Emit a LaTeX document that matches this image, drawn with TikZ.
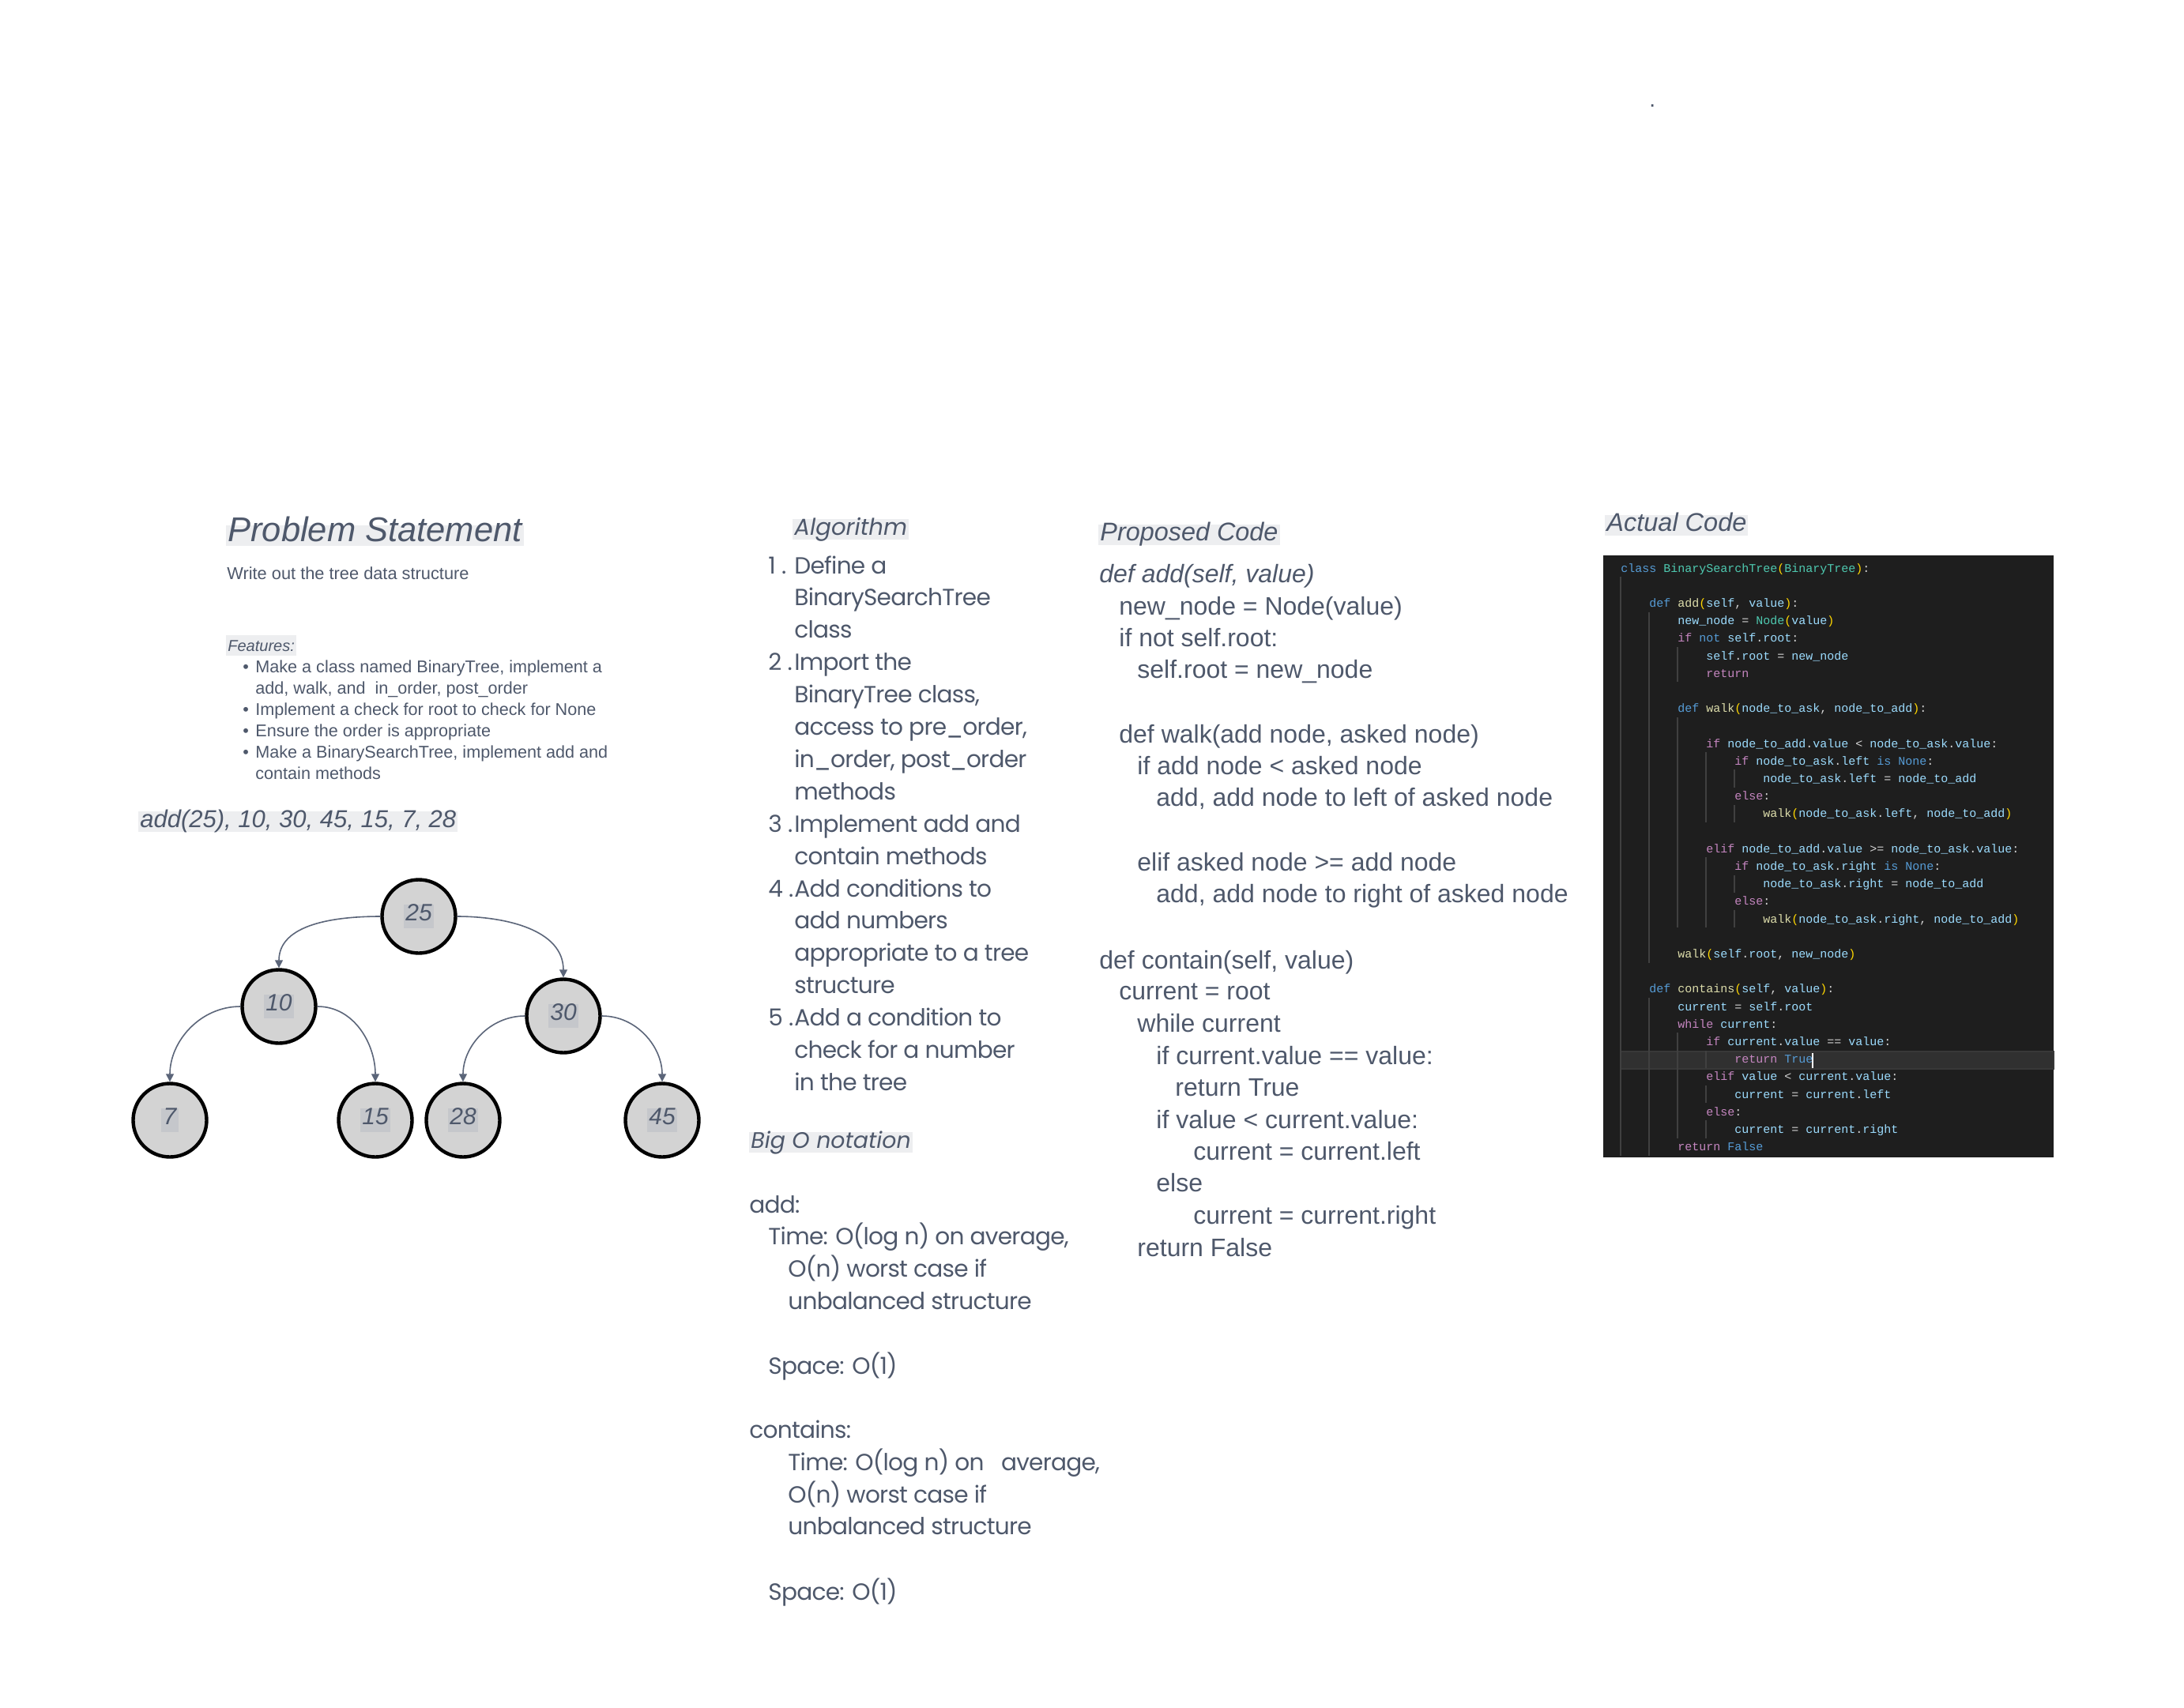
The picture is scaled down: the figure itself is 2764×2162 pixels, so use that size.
\documentclass[tikz,border=0pt]{standalone}
\usepackage{fontspec}
\setmainfont{Liberation Sans}
\newfontfamily\popf[LetterSpace=-2.5]{Poppins}
\newfontfamily\popg{Poppins}
\newfontfamily\monof{Liberation Mono}
\usetikzlibrary{arrows.meta,calc}
\definecolor{slate}{HTML}{4E586B}
\definecolor{hlgrey}{HTML}{EDEEF0}
\definecolor{nodefill}{HTML}{D3D3D3}
\definecolor{labelhl}{HTML}{C5C7CB}
\definecolor{edgecol}{HTML}{5B6579}
\definecolor{codebg}{HTML}{1E1E1E}
\definecolor{guide}{HTML}{404040}
\definecolor{ckw}{HTML}{569CD6}
\definecolor{cctl}{HTML}{C586C0}
\definecolor{cfnc}{HTML}{DCDCAA}
\definecolor{ccls}{HTML}{4EC9B0}
\definecolor{cvar}{HTML}{9CDCFE}
\definecolor{cbrk}{HTML}{FFD700}
\definecolor{cpun}{HTML}{D4D4D4}
\newcommand\hkw[1]{\textcolor{ckw}{#1}}
\newcommand\hct[1]{\textcolor{cctl}{#1}}
\newcommand\hfn[1]{\textcolor{cfnc}{#1}}
\newcommand\hcl[1]{\textcolor{ccls}{#1}}
\newcommand\hvr[1]{\textcolor{cvar}{#1}}
\newcommand\hbr[1]{\textcolor{cbrk}{#1}}
\newcommand\fsz[1]{\fontsize{#1}{#1}\selectfont}
\begin{document}
\begin{tikzpicture}[x=0.5pt,y=-0.5pt,
  txt/.style={anchor=base west,inner sep=0pt,text=slate},
  hl/.style={anchor=base west,inner xsep=1pt,inner ysep=0pt,fill=hlgrey,text=slate,text height=1em,text depth=0.3em},
  tn/.style={circle,draw=black,line width=2.2pt,fill=nodefill,minimum size=46.5pt,inner sep=0pt},
  lbl/.style={fill=labelhl,inner xsep=1.2pt,inner ysep=2.5pt,text=slate,font=\fsz{15pt}\itshape,text height=0.75em,text depth=0.25em},
  edge/.style={draw=edgecol,line width=0.8pt,-{Triangle[length=5pt,width=5pt]}},
  ps/.style={txt,font=\fsz{10.8pt}},
  alg/.style={txt,font=\popf\fsz{14.8pt}},
  pc/.style={txt,font=\fsz{16pt}},
  cd/.style={anchor=base west,inner sep=0pt,text=cpun,font=\monof\fsz{7.5pt}},
  gd/.style={draw=guide,line width=0.6pt}
]
\useasboundingbox (0,0) rectangle (2764,2162);
\fill[white] (0,0) rectangle (2764,2162);

% stray dot
\node[txt,font=\fsz{14pt}] (dot) at (2087,136) {.};

% ---------- Problem statement ----------
\node[hl,font=\fsz{21.75pt}\itshape] (psh) at (286,685) {Problem Statement};
\node[txt,font=\fsz{10.9pt}] (psw) at (287,733) {Write out the tree data structure};
\node[hl,font=\fsz{10pt}\itshape] (feat) at (286,824) {Features:};
\foreach \yy/\nm in {851/b1,905.7/b3,932.7/b4,959.7/b5}{
  \node[ps] (\nm) at (307,\yy) {\textbullet};
}
\node[ps] (f1) at (323,851) {Make a class named BinaryTree, implement a};
\node[ps] (f2) at (323,878.3) {add, walk, and\ \ in\_order, post\_order};
\node[ps] (f3) at (323,905.7) {Implement a check for root to check for None};
\node[ps] (f4) at (323,932.7) {Ensure the order is appropriate};
\node[ps] (f5) at (323,959.7) {Make a BinarySearchTree, implement add and};
\node[ps] (f6) at (323,986.7) {contain methods};
\node[hl,font=\fsz{15.5pt}\itshape] (seq) at (175,1047) {add(25), 10, 30, 45, 15, 7, 28};

% ---------- Tree ----------
\node[tn] (n25) at (530,1160) {};
\node[tn] (n10) at (353,1274) {};
\node[tn] (n30) at (713,1286) {};
\node[tn] (n7)  at (215,1418) {};
\node[tn] (n15) at (475,1418) {};
\node[tn] (n28) at (586,1418) {};
\node[tn] (n45) at (838,1418) {};
\node[lbl] (l25) at (n25) {25};
\node[lbl] (l10) at (n10) {10};
\node[lbl] (l30) at (n30) {30};
\node[lbl] (l7)  at (n7)  {7};
\node[lbl] (l15) at (n15) {15};
\node[lbl] (l28) at (n28) {28};
\node[lbl] (l45) at (n45) {45};
\draw[edge] (n25.west) to[out=180,in=90] (n10.north);
\draw[edge] (n25.east) to[out=0,in=90] (n30.north);
\draw[edge] (n10.west) to[out=180,in=90] (n7.north);
\draw[edge] (n10.east) to[out=0,in=90] (n15.north);
\draw[edge] (n30.west) to[out=180,in=90] (n28.north);
\draw[edge] (n30.east) to[out=0,in=90] (n45.north);

% ---------- Algorithm ----------
\node[hl,font=\popg\fsz{14.6pt}\itshape] (algh) at (1003,677) {Algorithm};
\node[alg] (a1n) at (972,726) {1 .};
\node[alg] (a1a) at (1005,726) {Define a};
\node[alg] (a1b) at (1005,766.9) {BinarySearchTree};
\node[alg] (a1c) at (1005,807.8) {class};
\node[alg] (a2n) at (972,848.7) {2 .};
\node[alg] (a2a) at (1005,848.7) {Import the};
\node[alg] (a2b) at (1005,889.6) {BinaryTree class,};
\node[alg] (a2c) at (1005,930.5) {access to pre\_order,};
\node[alg] (a2d) at (1005,971.4) {in\_order, post\_order};
\node[alg] (a2e) at (1005,1012.3) {methods};
\node[alg] (a3n) at (972,1053.2) {3 .};
\node[alg] (a3a) at (1005,1053.2) {Implement add and};
\node[alg] (a3b) at (1005,1094.1) {contain methods};
\node[alg] (a4n) at (972,1135) {4 .};
\node[alg] (a4a) at (1005,1135) {Add conditions to};
\node[alg] (a4b) at (1005,1175.9) {add numbers};
\node[alg] (a4c) at (1005,1216.8) {appropriate to a tree};
\node[alg] (a4d) at (1005,1257.7) {structure};
\node[alg] (a5n) at (972,1298.6) {5 .};
\node[alg] (a5a) at (1005,1298.6) {Add a condition to};
\node[alg] (a5b) at (1005,1339.5) {check for a number};
\node[alg] (a5c) at (1005,1380.4) {in the tree};

% ---------- Big O ----------
\node[hl,font=\popg\fsz{14.2pt}\itshape] (bigh) at (948,1453) {Big O notation};
\node[alg] (b1) at (948,1535) {add:};
\node[alg] (b2) at (972,1575) {Time: O(log n) on average,};
\node[alg] (b3) at (997,1616) {O(n) worst case if};
\node[alg] (b4) at (997,1657) {unbalanced structure};
\node[alg] (b5) at (972,1739) {Space: O(1)};
\node[alg] (b6) at (948,1820) {contains:};
\node[alg] (b7) at (997,1861) {Time: O(log n) on\ \ \ average,};
\node[alg] (b8) at (997,1902) {O(n) worst case if};
\node[alg] (b9) at (997,1942) {unbalanced structure};
\node[alg] (b10) at (972,2025) {Space: O(1)};

% ---------- Proposed code ----------
\node[hl,font=\fsz{16.2pt}\itshape] (pch) at (1390,684) {Proposed Code};
\node[pc,font=\fsz{16pt}\itshape] (p1) at (1391,737) {def add(self, value)};
\node[pc] (p2) at (1416,778) {new\_node = Node(value)};
\node[pc] (p3) at (1416,818) {if not self.root:};
\node[pc] (p4) at (1439,858) {self.root = new\_node};
\node[pc] (p5) at (1416,940) {def walk(add node, asked node)};
\node[pc] (p6) at (1439,980) {if add node < asked node};
\node[pc] (p7) at (1463,1020) {add, add node to left of asked node};
\node[pc] (p8) at (1439,1102) {elif asked node >= add node};
\node[pc] (p9) at (1463,1142) {add, add node to right of asked node};
\node[pc] (q1) at (1391,1226) {def contain(self, value)};
\node[pc] (q2) at (1416,1265) {current = root};
\node[pc] (q3) at (1439,1306) {while current};
\node[pc] (q4) at (1463,1347) {if current.value == value:};
\node[pc] (q5) at (1487,1387) {return True};
\node[pc] (q6) at (1463,1428) {if value < current.value:};
\node[pc] (q7) at (1510,1468) {current = current.left};
\node[pc] (q8) at (1463,1508) {else};
\node[pc] (q9) at (1510,1549) {current = current.right};
\node[pc] (q10) at (1439,1590) {return False};

% ---------- Actual code ----------
\node[hl,font=\fsz{16.25pt}\itshape] (ach) at (2031,672) {Actual Code};
\fill[codebg] (2029,703) rectangle (2599,1465);
% current line highlight
\draw[draw=black!78,fill=codebg!92!white,line width=0.6pt] (2051,1331) rectangle (2599,1353);
% indent guides  (line n baseline = 724+22.2n ; top = base-16, bottom = base+6.2)
\newcommand\gline[3]{\draw[gd] ({2051+9*#1},{724+22.2*#2-16}) -- ({2051+9*#1},{724+22.2*#3+6.2});}
\gline{0}{1}{33}
\gline{4}{3}{22}
\gline{4}{25}{33}
\gline{8}{5}{6}
\gline{8}{9}{20}
\gline{8}{27}{32}
\gline{12}{11}{14}
\gline{12}{17}{20}
\gline{12}{28}{28}
\gline{12}{30}{30}
\gline{12}{32}{32}
\gline{16}{12}{12}
\gline{16}{14}{14}
\gline{16}{18}{18}
\gline{16}{20}{20}
\newcommand\cl[4]{\node[cd] (#1) at ({2051+9*#2},{724+22.2*#3}) {#4};}
\cl{c0}{0}{0}{\hkw{class} \hcl{BinarySearchTree}\hbr{(}\hcl{BinaryTree}\hbr{)}:}
\cl{c2}{4}{2}{\hkw{def} \hfn{add}\hbr{(}\hvr{self}, \hvr{value}\hbr{)}:}
\cl{c3}{8}{3}{\hvr{new\_node} = \hcl{Node}\hbr{(}\hvr{value}\hbr{)}}
\cl{c4}{8}{4}{\hct{if} \hkw{not} \hvr{self}.\hvr{root}:}
\cl{c5}{12}{5}{\hvr{self}.\hvr{root} = \hvr{new\_node}}
\cl{c6}{12}{6}{\hct{return}}
\cl{c8}{8}{8}{\hkw{def} \hfn{walk}\hbr{(}\hvr{node\_to\_ask}, \hvr{node\_to\_add}\hbr{)}:}
\cl{c10}{12}{10}{\hct{if} \hvr{node\_to\_add}.\hvr{value} < \hvr{node\_to\_ask}.\hvr{value}:}
\cl{c11}{16}{11}{\hct{if} \hvr{node\_to\_ask}.\hvr{left} \hkw{is} \hkw{None}:}
\cl{c12}{20}{12}{\hvr{node\_to\_ask}.\hvr{left} = \hvr{node\_to\_add}}
\cl{c13}{16}{13}{\hct{else}:}
\cl{c14}{20}{14}{\hfn{walk}\hbr{(}\hvr{node\_to\_ask}.\hvr{left}, \hvr{node\_to\_add}\hbr{)}}
\cl{c16}{12}{16}{\hct{elif} \hvr{node\_to\_add}.\hvr{value} >= \hvr{node\_to\_ask}.\hvr{value}:}
\cl{c17}{16}{17}{\hct{if} \hvr{node\_to\_ask}.\hvr{right} \hkw{is} \hkw{None}:}
\cl{c18}{20}{18}{\hvr{node\_to\_ask}.\hvr{right} = \hvr{node\_to\_add}}
\cl{c19}{16}{19}{\hct{else}:}
\cl{c20}{20}{20}{\hfn{walk}\hbr{(}\hvr{node\_to\_ask}.\hvr{right}, \hvr{node\_to\_add}\hbr{)}}
\cl{c22}{8}{22}{\hfn{walk}\hbr{(}\hvr{self}.\hvr{root}, \hvr{new\_node}\hbr{)}}
\cl{c24}{4}{24}{\hkw{def} \hfn{contains}\hbr{(}\hvr{self}, \hvr{value}\hbr{)}:}
\cl{c25}{8}{25}{\hvr{current} = \hvr{self}.\hvr{root}}
\cl{c26}{8}{26}{\hct{while} \hvr{current}:}
\cl{c27}{12}{27}{\hct{if} \hvr{current}.\hvr{value} == \hvr{value}:}
\cl{c28}{16}{28}{\hct{return} \hkw{True}}
\cl{c29}{12}{29}{\hct{elif} \hvr{value} < \hvr{current}.\hvr{value}:}
\cl{c30}{16}{30}{\hvr{current} = \hvr{current}.\hvr{left}}
\cl{c31}{12}{31}{\hct{else}:}
\cl{c32}{16}{32}{\hvr{current} = \hvr{current}.\hvr{right}}
\cl{c33}{8}{33}{\hct{return} \hkw{False}}
% cursor
\coordinate (curtop) at (2294,1333);
\coordinate (curbot) at (2294,1352);
\draw[white,line width=0.7pt] (curtop) -- (curbot);
\end{tikzpicture}
\end{document}
